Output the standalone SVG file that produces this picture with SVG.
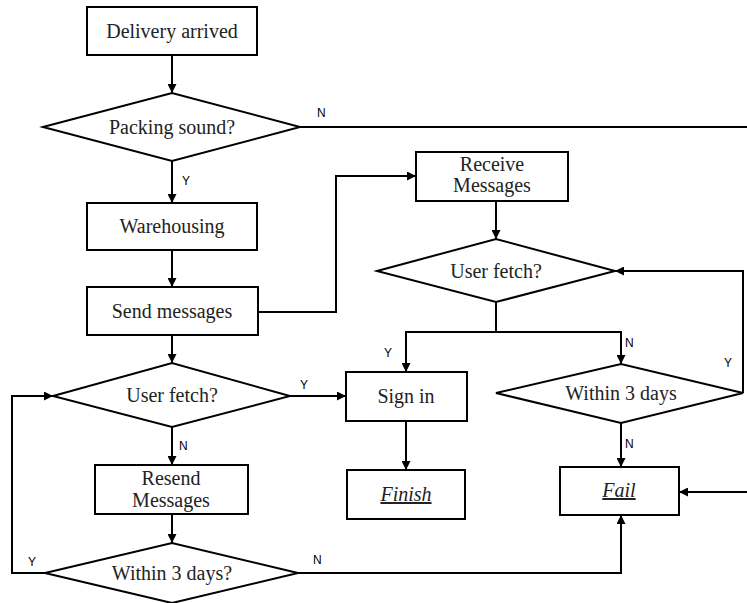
<svg xmlns="http://www.w3.org/2000/svg" width="747" height="603" viewBox="0 0 747 603">
<style>
.box{fill:#fff;stroke:#000;stroke-width:2}
.t{font-family:"Liberation Serif","Times New Roman",serif;font-size:20px;fill:#222;text-anchor:middle}
.it{font-style:italic;text-decoration:underline}
.lbl{font-family:"Liberation Sans",Arial,sans-serif;font-size:12px;fill:#000}
.c{fill:none;stroke:#000;stroke-width:2}
</style>
<defs>
<marker id="ah" markerUnits="userSpaceOnUse" markerWidth="9" markerHeight="9" viewBox="0 0 10 10" refX="10" refY="5" orient="auto">
<path d="M0,0 L10,5 L0,10 z" fill="#000"/>
</marker>
</defs>
<rect width="747" height="603" fill="#fff"/>
<g id="connectors">
<path class="c" d="M172,55 V93" marker-end="url(#ah)"/>
<path class="c" d="M300,127 H747"/>
<path class="c" d="M172,161 V203" marker-end="url(#ah)"/>
<path class="c" d="M172,250 V287" marker-end="url(#ah)"/>
<path class="c" d="M258,312 H336 V176 H416" marker-end="url(#ah)"/>
<path class="c" d="M496,201 V239" marker-end="url(#ah)"/>
<path class="c" d="M496,302 V332"/>
<path class="c" d="M496,332 H406 V372" marker-end="url(#ah)"/>
<path class="c" d="M496,332 H621 V364" marker-end="url(#ah)"/>
<path class="c" d="M743,393 V271 H615" marker-end="url(#ah)"/>
<path class="c" d="M406,421 V470" marker-end="url(#ah)"/>
<path class="c" d="M621,423 V467" marker-end="url(#ah)"/>
<path class="c" d="M747,492 H679" marker-end="url(#ah)"/>
<path class="c" d="M172,335 V363" marker-end="url(#ah)"/>
<path class="c" d="M290,396 H346" marker-end="url(#ah)"/>
<path class="c" d="M172,427 V465" marker-end="url(#ah)"/>
<path class="c" d="M172,514 V543" marker-end="url(#ah)"/>
<path class="c" d="M45,573 H12 V396 H53" marker-end="url(#ah)"/>
<path class="c" d="M298,573 H621 V515" marker-end="url(#ah)"/>
<text class="lbl" x="317" y="117">N</text>
<text class="lbl" x="182" y="185">Y</text>
<text class="lbl" x="384" y="357">Y</text>
<text class="lbl" x="625" y="347">N</text>
<text class="lbl" x="724" y="367">Y</text>
<text class="lbl" x="625" y="448">N</text>
<text class="lbl" x="300" y="389">Y</text>
<text class="lbl" x="179" y="450">N</text>
<text class="lbl" x="28" y="566">Y</text>
<text class="lbl" x="313" y="564">N</text>
</g>
<g id="n-delivery">
<rect class="box" x="87" y="7" width="170" height="48"/>
<text class="t" x="172" y="38">Delivery arrived</text>
</g>
<g id="n-packing">
<polygon class="box" points="43,127 172,93 300,127 172,161"/>
<text class="t" x="172" y="134">Packing sound?</text>
</g>
<g id="n-warehousing">
<rect class="box" x="87" y="203" width="170" height="47"/>
<text class="t" x="172" y="233">Warehousing</text>
</g>
<g id="n-send">
<rect class="box" x="87" y="287" width="171" height="48"/>
<text class="t" x="172" y="318">Send messages</text>
</g>
<g id="n-receive">
<rect class="box" x="416" y="152" width="152" height="49"/>
<text class="t" x="492" y="171">Receive</text>
<text class="t" x="492" y="192">Messages</text>
</g>
<g id="n-fetch2">
<polygon class="box" points="377,271 496,239 615,271 496,302"/>
<text class="t" x="496" y="278">User fetch?</text>
</g>
<g id="n-signin">
<rect class="box" x="346" y="372" width="121" height="49"/>
<text class="t" x="406" y="403">Sign in</text>
</g>
<g id="n-within2">
<polygon class="box" points="496,393 621,364 743,393 621,423"/>
<text class="t" x="621" y="400">Within 3 days</text>
</g>
<g id="n-finish">
<rect class="box" x="347" y="470" width="118" height="49"/>
<text class="t it" x="406" y="501">Finish</text>
</g>
<g id="n-fail">
<rect class="box" x="560" y="467" width="119" height="48"/>
<text class="t it" x="619" y="497">Fail</text>
</g>
<g id="n-fetch1">
<polygon class="box" points="53,396 172,363 290,396 172,427"/>
<text class="t" x="172" y="402">User fetch?</text>
</g>
<g id="n-resend">
<rect class="box" x="95" y="465" width="153" height="49"/>
<text class="t" x="171" y="485">Resend</text>
<text class="t" x="171" y="507">Messages</text>
</g>
<g id="n-within1">
<polygon class="box" points="45,573 172,543 298,573 172,603"/>
<text class="t" x="172" y="580">Within 3 days?</text>
</g>
</svg>
